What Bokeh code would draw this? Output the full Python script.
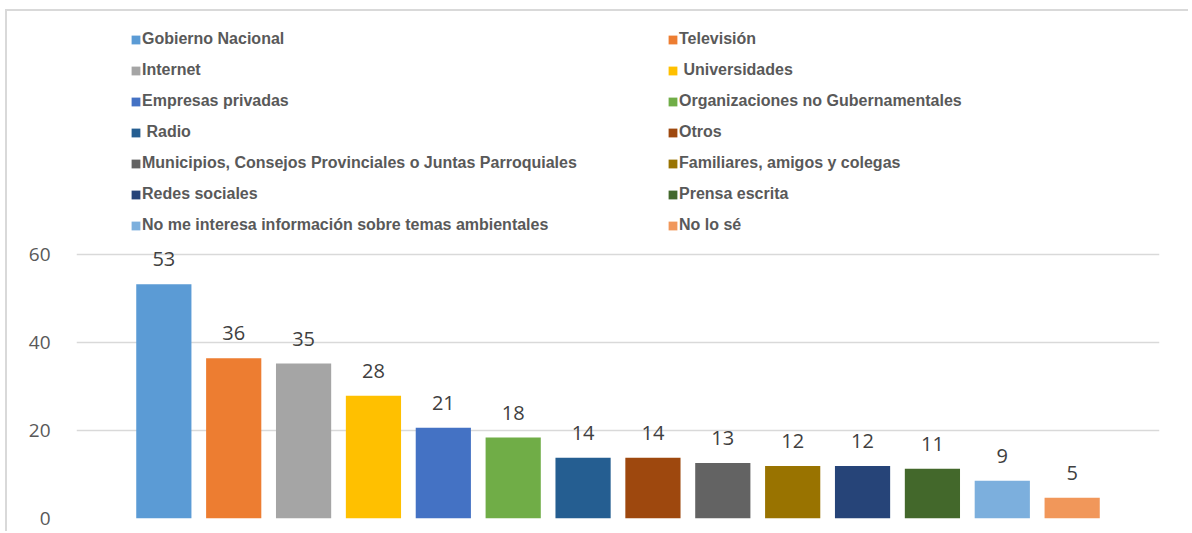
from bokeh.plotting import figure
from bokeh.models import ColumnDataSource, Range1d, FixedTicker, Legend, LegendItem
from bokeh.core.properties import value
from bokeh.embed import file_html
from bokeh.resources import INLINE

categories = [
    "Gobierno Nacional", "Televisión", "Internet", " Universidades",
    "Empresas privadas", "Organizaciones no Gubernamentales", " Radio", "Otros",
    "Municipios, Consejos Provinciales o Juntas Parroquiales",
    "Familiares, amigos y colegas", "Redes sociales", "Prensa escrita",
    "No me interesa información sobre temas ambientales", "No lo sé",
]
values = [53.2, 36.4, 35.2, 27.9, 20.6, 18.4, 13.8, 13.8, 12.6, 11.9, 11.9, 11.3, 8.6, 4.7]
colors = [
    "#5B9BD5", "#ED7D31", "#A5A5A5", "#FFC000", "#4472C4", "#70AD47", "#255E91",
    "#9E480E", "#636363", "#997300", "#264478", "#43682B", "#7CAFDD", "#F1975A",
]
y_ticks = [0, 20, 40, 60]

idx = list(range(len(categories)))
labels = [f"{v:.0f}" for v in values]
src = ColumnDataSource(dict(x=idx, top=values, color=colors, label=labels, cat=categories))

p = figure(width=1183, height=522, output_backend="svg", toolbar_location=None,
           x_range=Range1d(-1.25, 14.25), y_range=Range1d(0, 113.6),
           x_axis_location=None, min_border_left=69, min_border_right=31,
           min_border_top=7, min_border_bottom=15)
p.outline_line_color = None
p.xgrid.grid_line_color = None
p.ygrid.grid_line_color = "#d9d9d9"
p.ygrid.grid_line_width = 1.5
p.ygrid.ticker = FixedTicker(ticks=y_ticks)
p.yaxis.ticker = FixedTicker(ticks=y_ticks)
p.yaxis.axis_line_color = None
p.yaxis.major_tick_line_color = None
p.yaxis.minor_tick_line_color = None
p.yaxis.major_label_standoff = 20
p.yaxis.major_label_text_font = "Open Sans"
p.yaxis.major_label_text_font_size = "19px"
p.yaxis.major_label_text_color = "#595959"
p.styles = {"margin-left": "5px", "margin-top": "9px",
            "border-top": "2px solid #d9d9d9", "border-left": "2px solid #d9d9d9"}

r = p.vbar(x="x", top="top", width=0.79, bottom=0, fill_color="color", line_color=None, source=src)
p.text(x="x", y="top", text="label", source=src, text_align="center", text_baseline="alphabetic",
       y_offset=-25, text_font=value("Open Sans"), text_font_size="20px", text_color="#404040")

def make_legend(start, vx):
    items = [LegendItem(label=categories[i], renderers=[r], index=i) for i in range(start, len(categories), 2)]
    lg = Legend(items=items, location=(vx, 283), padding=0, spacing=11, label_height=20,
                glyph_width=11, glyph_height=11, label_standoff=1,
                border_line_color=None, background_fill_alpha=0,
                label_text_font="Liberation Sans", label_text_font_style="bold",
                label_text_font_size="16px", label_text_color="#595959")
    p.add_layout(lg, "center")

make_legend(0, 54)
make_legend(1, 591)

open("out.html", "w").write(file_html(p, INLINE))
